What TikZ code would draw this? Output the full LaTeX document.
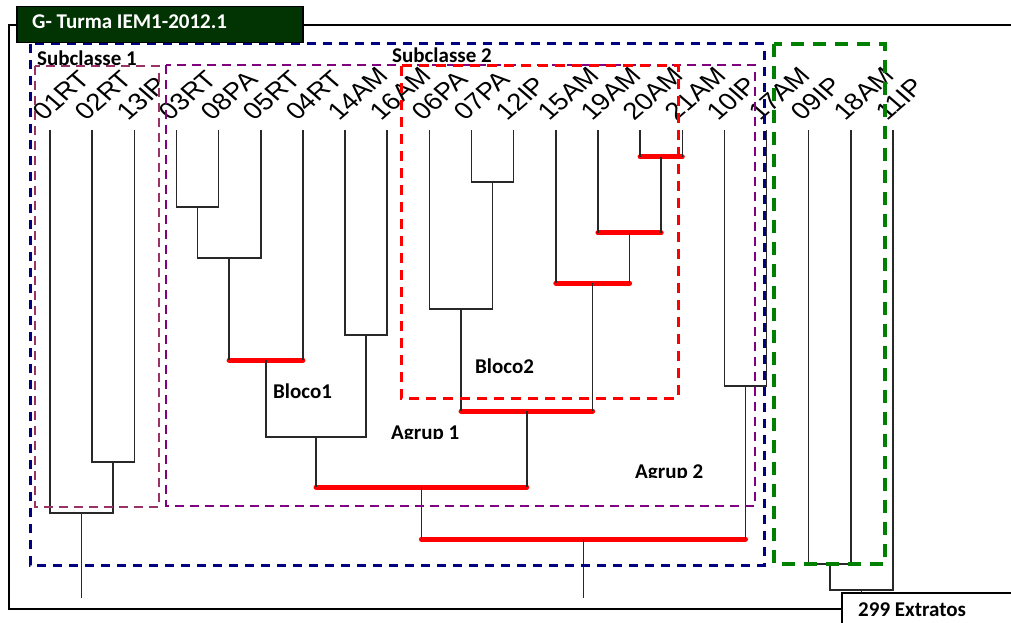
\documentclass[tikz,border=0pt]{standalone}
\usepackage{fontspec}
\setmainfont{Liberation Sans}
\newfontfamily\calfont{Carlito}
\newfontfamily\arialfont{Liberation Sans}
\usetikzlibrary{calc}
\definecolor{navyb}{RGB}{0,0,128}
\definecolor{purp}{RGB}{128,0,128}
\definecolor{mauve}{RGB}{153,51,102}
\definecolor{grn}{RGB}{0,128,0}
\definecolor{dkgreen}{RGB}{2,51,2}
\definecolor{linegray}{RGB}{40,40,40}
\newcommand\mjoinb[4]{\coordinate (#1) at #4;
  \draw[link] (#2) |- (#1) -| (#3);}
\newcommand\mjoinr[4]{\coordinate (#1) at #4;
  \draw[redbar] (#2 |- #1) -- (#3 |- #1);
  \draw[link] (#2) -- (#2 |- #1) (#3) -- (#3 |- #1);}
\begin{document}
\begin{tikzpicture}[x=1pt,y=1pt,
  link/.style={draw=linegray, line width=1.5pt},
  redbar/.style={draw=red, line width=5pt, line cap=round},
  frame/.style={draw=black, line width=2pt},
  leaflabel/.style={xscale=1.15, rotate=45, anchor=base west, inner sep=0pt, font=\arialfont\fontsize{24}{24}\selectfont},
  boldlabel/.style={anchor=base west, inner sep=0pt, font=\calfont\bfseries\fontsize{21}{21}\selectfont},
  boxblue/.style={draw=navyb, line width=3pt, dash pattern=on 9pt off 7pt},
  boxmauve/.style={draw=mauve, line width=2.5pt, dash pattern=on 9pt off 6pt},
  boxpurp/.style={draw=purp, line width=2.5pt, dash pattern=on 9pt off 6pt},
  boxred/.style={draw=red, line width=3pt, dash pattern=on 10pt off 7pt},
  boxgreen/.style={draw=grn, line width=3.5pt, dash pattern=on 13pt off 9pt}]
\useasboundingbox (0,0) rectangle (1011,622);
\fill[white] (0,0) rectangle (1011,622);

% outer frame
\draw[frame] (1011,597) -- (9,597) -- (9,13) -- (842,13);
\draw[frame] (1015,29) -| (842,-4);

% leaves
\foreach \i/\t in {1/01RT,2/02RT,3/13IP,4/03RT,5/08PA,6/05RT,7/04RT,8/14AM,9/16AM,10/06PA,11/07PA,12/12IP,13/15AM,14/19AM,15/20AM,16/21AM,17/10IP,18/17AM,19/09IP,20/18AM,21/11IP}{
  \coordinate (l\i) at ({50+(\i-1)*42.15},492);
  \node[leaflabel] (t\i) at ({44+(\i-1)*42.15},500) {\t};
}

% dendrogram
\mjoinb{a}{l2}{l3}{(113.2,160)}
\mjoinb{b}{l1}{a}{(81.6,109)}
\coordinate (b0) at (81.6,24);
\draw[link] (b) -- (b0);
\mjoinb{c}{l4}{l5}{(197.5,415)}
\mjoinb{d}{c}{l6}{(229.1,364)}
\mjoinr{e}{d}{l7}{(266,262)}
\mjoinb{f}{l8}{l9}{(366.1,287)}
\mjoinb{g}{e}{f}{(316,185)}
\mjoinb{h}{l11}{l12}{(492.6,440)}
\mjoinb{i}{l10}{h}{(461,313)}
\mjoinr{j}{l15}{l16}{(661.2,465)}
\mjoinr{k}{l14}{j}{(629.6,389)}
\mjoinr{m1}{l13}{k}{(592.7,339)}
\mjoinr{m2}{i}{m1}{(526.8,211)}
\mjoinr{n}{g}{m2}{(421.4,135)}
\mjoinb{o}{l17}{l18}{(745.5,236)}
\mjoinr{p}{n}{o}{(583.5,83)}
\coordinate (p0) at (583.5,24);
\draw[link] (p) -- (p0);
\mjoinb{q}{l19}{l20}{(829.8,58)}
\mjoinb{r}{q}{l21}{(861.4,32)}
\coordinate (r0) at (861.4,29);
\draw[link] (r) -- (r0);

% dashed boxes
\draw[boxblue] (30,578) rectangle (764,57);
\draw[boxmauve] (35,556) rectangle (159,115);
\draw[boxpurp] (166,557) rectangle (755,116);
\draw[boxred] (401,556) rectangle (678,224);
\draw[boxgreen] (774,578) rectangle (885,58);

% title
\node[draw=black, line width=1.5pt, fill=dkgreen, anchor=north west, minimum width=286pt, minimum height=36pt, inner sep=0pt] (title) at (16,616) {};
\node[boldlabel, text=white] (titletext) at (32,593) {G- Turma IEM1-2012.1};

% labels
\node[boldlabel] (sub1) at (37,556.5) {Subclasse 1};
\node[boldlabel] (sub2) at (392,559.5) {Subclasse 2};
\node[boldlabel] (bl1) at (273,224) {Bloco1};
\node[boldlabel] (bl2) at (475,249) {Bloco2};
\begin{scope}
  \clip (380,212) rectangle (480,183.5);
  \node[boldlabel] (ag1) at (391,183) {Agrup 1};
\end{scope}
\begin{scope}
  \clip (620,172) rectangle (720,144.5);
  \node[boldlabel] (ag2) at (635,144) {Agrup 2};
\end{scope}
\node[boldlabel] (ext) at (858,6) {299 Extratos};
\end{tikzpicture}
\end{document}
